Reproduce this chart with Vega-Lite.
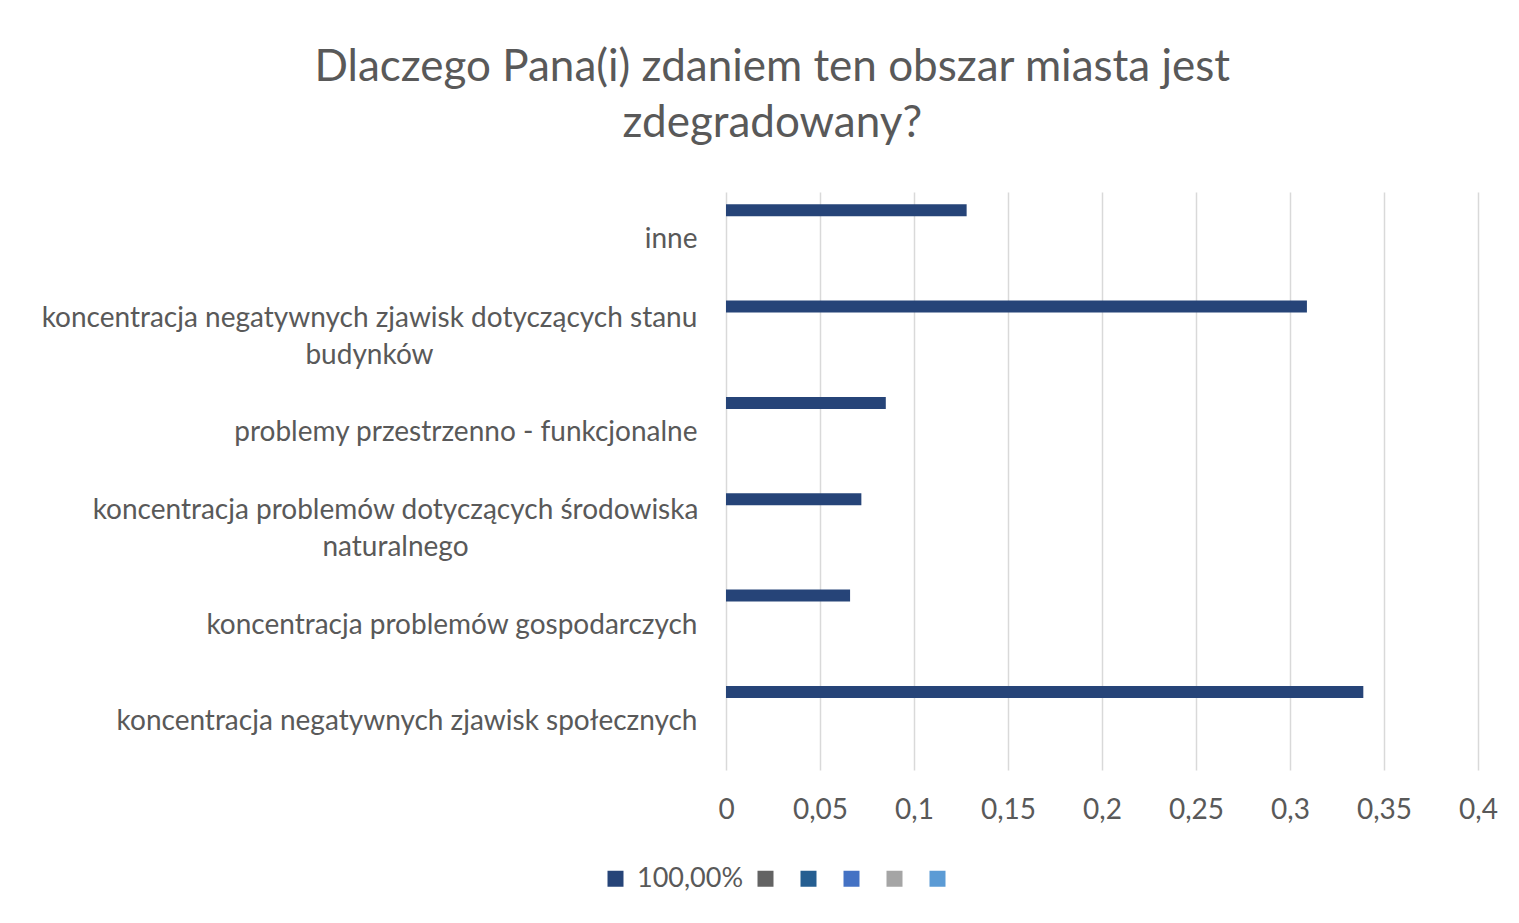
{
  "$schema": "https://vega.github.io/schema/vega-lite/v6.json",
  "width": 752,
  "height": 578,
  "autosize": {"type": "none"},
  "padding": {"left": 726, "top": 192, "right": 41, "bottom": 153},
  "background": "white",
  "title": {
    "text": ["Dlaczego Pana(i) zdaniem ten obszar miasta jest", "zdegradowany?"],
    "frame": "bounds",
    "anchor": "middle",
    "font": "Lato",
    "fontSize": 44,
    "fontWeight": "normal",
    "color": "#595959",
    "lineHeight": 56,
    "offset": 46,
    "dx": 3
  },
  "data": {
    "values": [
      {"kategoria": "inne", "seria": "s1", "wartosc": 0.128},
      {"kategoria": "koncentracja negatywnych zjawisk dotyczących stanu budynków", "seria": "s1", "wartosc": 0.309},
      {"kategoria": "problemy przestrzenno - funkcjonalne", "seria": "s1", "wartosc": 0.085},
      {"kategoria": "koncentracja problemów dotyczących środowiska naturalnego", "seria": "s1", "wartosc": 0.072},
      {"kategoria": "koncentracja problemów gospodarczych", "seria": "s1", "wartosc": 0.066},
      {"kategoria": "koncentracja negatywnych zjawisk społecznych", "seria": "s1", "wartosc": 0.339}
    ]
  },
  "mark": {"type": "bar"},
  "encoding": {
    "y": {
      "field": "kategoria",
      "type": "nominal",
      "sort": null,
      "scale": {"paddingInner": 0.254, "paddingOuter": 0.127},
      "axis": {
        "title": null,
        "domain": false,
        "ticks": false,
        "grid": false,
        "labelFont": "Lato",
        "labelFontSize": 28,
        "labelColor": "#595959",
        "labelLimit": 900,
        "labelLineHeight": 37,
        "labelExpr": "datum.value == 'koncentracja negatywnych zjawisk dotyczących stanu budynków' ? ['koncentracja negatywnych zjawisk dotyczących stanu', 'budynków'] : datum.value == 'koncentracja problemów dotyczących środowiska naturalnego' ? ['koncentracja problemów dotyczących środowiska', 'naturalnego'] : datum.value",
        "labelAlign": {
          "condition": {"test": "indexof(datum.value, 'budynk') >= 0 || indexof(datum.value, 'naturaln') >= 0", "value": "center"},
          "value": "right"
        },
        "labelOffset": {
          "condition": {"test": "indexof(datum.value, 'budynk') >= 0 || indexof(datum.value, 'naturaln') >= 0", "value": -18},
          "value": 0
        },
        "labelPadding": {
          "condition": [
            {"test": "indexof(datum.value, 'budynk') >= 0", "value": 357},
            {"test": "indexof(datum.value, 'naturaln') >= 0", "value": 331}
          ],
          "value": 29
        }
      }
    },
    "yOffset": {
      "field": "seria",
      "type": "nominal",
      "scale": {"domain": ["s1", "s2", "s3", "s4", "s5", "s6"]}
    },
    "x": {
      "field": "wartosc",
      "type": "quantitative",
      "scale": {"domain": [0, 0.4], "nice": false},
      "axis": {
        "title": null,
        "domain": false,
        "ticks": false,
        "grid": true,
        "gridColor": "#d9d9d9",
        "gridWidth": 1.5,
        "values": [0, 0.05, 0.1, 0.15, 0.2, 0.25, 0.3, 0.35, 0.4],
        "labelExpr": "replace('' + datum.value, '.', ',')",
        "labelFlush": false,
        "labelFont": "Lato",
        "labelFontSize": 28,
        "labelColor": "#595959",
        "labelPadding": 26
      }
    },
    "color": {
      "field": "seria",
      "type": "nominal",
      "scale": {
        "domain": ["s1", "s2", "s3", "s4", "s5", "s6"],
        "range": ["#264478", "#636363", "#255E91", "#4472C4", "#A5A5A5", "#5B9BD5"]
      },
      "legend": {
        "title": null,
        "orient": "none",
        "legendX": -124,
        "legendY": 673,
        "direction": "horizontal",
        "symbolType": "square",
        "symbolSize": 256,
        "symbolStrokeWidth": 0,
        "symbolOpacity": 1,
        "labelExpr": "datum.value == 's1' ? '100,00%' : ''",
        "labelFont": "Lato",
        "labelFontSize": 27,
        "labelColor": "#595959",
        "labelOffset": 8,
        "columnPadding": 8
      }
    }
  },
  "config": {"view": {"stroke": null}}
}
